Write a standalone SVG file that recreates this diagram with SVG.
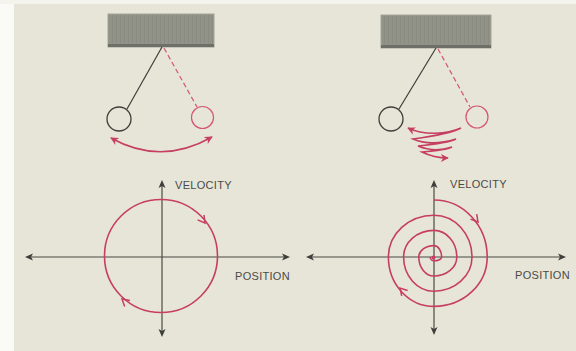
<svg xmlns="http://www.w3.org/2000/svg" xmlns:xlink="http://www.w3.org/1999/xlink" width="576" height="351" viewBox="0 0 576 351">
<style>
.axis{stroke:#4a4a46;stroke-width:1.2;fill:none}
.red{stroke:#c63e62;stroke-width:1.6;fill:none}
.rod{stroke:#3e3e3a;stroke-width:1.2;fill:none}
.bob{stroke:#3e3e3a;stroke-width:1.3;fill:none}
.rbob{stroke:#d4566f;stroke-width:1.2;fill:none}
.dash{stroke:#d4566f;stroke-width:1.2;fill:none;stroke-dasharray:5 3}
.lbl{font-family:"Liberation Sans",Arial,sans-serif;font-size:11px;fill:#4a4a46;letter-spacing:0.3px}
.ceil{fill:url(#stripes);stroke:#a5a69b;stroke-width:1}
</style>
<defs>
<pattern id="stripes" width="4" height="10" patternUnits="userSpaceOnUse">
<rect width="4" height="10" fill="#929388"/>
<rect width="1" height="10" fill="#8a8b81"/>
</pattern>
<path id="ahead" d="M0,0 L-8,-3.5 L-6,0 L-8,3.5 Z" fill="#3e3e3a"/>
<path id="vhead" d="M-7,-4 L0,0 L-7,4" fill="none" stroke="#c63e62" stroke-width="1.5"/>
<marker id="rarrow" viewBox="0 0 10 10" refX="9" refY="5" markerWidth="5" markerHeight="5" orient="auto-start-reverse" markerUnits="strokeWidth">
<path d="M0,0 L10,5 L0,10 L3,5 Z" fill="#c63e62"/>
</marker>
</defs>
<rect width="576" height="351" fill="#e7e5d7"/>
<rect width="14" height="351" fill="#fafaf6"/>
<rect width="576" height="4" fill="#f4f3ec"/>

<g id="left-pendulum">
<rect class="ceil" x="108" y="14" width="106" height="33"/>
<rect x="108" y="44" width="106" height="3" fill="#6e6f66"/>
<line class="rod" x1="162" y1="47" x2="127" y2="109"/>
<circle class="bob" cx="119" cy="119" r="12"/>
<line class="dash" x1="164" y1="48" x2="197" y2="107"/>
<circle class="rbob" cx="202.5" cy="117.5" r="11"/>
<path class="red" d="M111,138 Q161,166 212,137" marker-start="url(#rarrow)" marker-end="url(#rarrow)"/>
</g>

<g id="right-pendulum">
<rect class="ceil" x="381" y="15" width="110" height="33"/>
<rect x="381" y="45" width="110" height="3" fill="#6e6f66"/>
<line class="rod" x1="436" y1="48" x2="399" y2="109"/>
<circle class="bob" cx="391" cy="119" r="12"/>
<line class="dash" x1="438" y1="49" x2="470" y2="107"/>
<circle class="rbob" cx="477" cy="117" r="11"/>
<path class="red" d="M408,128 C425,136 447,134 461,128 Q450,134 413,139 C427,145 443,143 456,139 Q448,143 418,146 C430,151 443,150 452,147 Q446,150 422,152 C432,157 441,158 448,158" marker-start="url(#rarrow)" marker-end="url(#rarrow)"/>
</g>

<g id="left-phase">
<line class="axis" x1="27" y1="257" x2="288" y2="257"/>
<line class="axis" x1="162" y1="182" x2="162" y2="335"/>
<use xlink:href="#ahead" transform="translate(290,257)"/>
<use xlink:href="#ahead" transform="translate(25,257) rotate(180)"/>
<use xlink:href="#ahead" transform="translate(162,180) rotate(-90)"/>
<use xlink:href="#ahead" transform="translate(162,337) rotate(90)"/>
<circle class="red" cx="161" cy="256" r="56.5"/>
<use xlink:href="#vhead" transform="translate(205,223) rotate(53)"/>
<use xlink:href="#vhead" transform="translate(122,299) rotate(221)"/>
<text class="lbl" x="175" y="189">VELOCITY</text>
<text class="lbl" x="235" y="280">POSITION</text>
</g>

<g id="right-phase">
<line class="axis" x1="308" y1="257" x2="564" y2="257"/>
<line class="axis" x1="434" y1="182" x2="434" y2="333"/>
<use xlink:href="#ahead" transform="translate(566,257)"/>
<use xlink:href="#ahead" transform="translate(306,257) rotate(180)"/>
<use xlink:href="#ahead" transform="translate(434,180) rotate(-90)"/>
<use xlink:href="#ahead" transform="translate(434,335) rotate(90)"/>
<path class="red" d="M434,200 A53.2,57 0 0 1 487.2,257 A53.2,49.4 0 0 1 434,306.4 A45.6,49.4 0 0 1 388.4,257 A45.6,41.8 0 0 1 434,215.2 A38,41.8 0 0 1 472,257 A38,34.2 0 0 1 434,291.2 A30.4,34.2 0 0 1 403.6,257 A30.4,26.6 0 0 1 434,230.4 A22.8,26.6 0 0 1 456.8,257 A22.8,19 0 0 1 434,276 A15.2,19 0 0 1 418.8,257 A15.2,11.4 0 0 1 434,245.6 A7.6,11.4 0 0 1 441.6,257 A7.6,3.8 0 0 1 434,260.8 A3.8,3.8 0 0 1 430.2,257"/>
<circle cx="433.5" cy="257.5" r="2" fill="#c63e62"/>
<use xlink:href="#vhead" transform="translate(478,222) rotate(51)"/>
<use xlink:href="#vhead" transform="translate(400,288) rotate(228)"/>
<text class="lbl" x="450" y="188">VELOCITY</text>
<text class="lbl" x="515" y="279">POSITION</text>
</g>
</svg>
